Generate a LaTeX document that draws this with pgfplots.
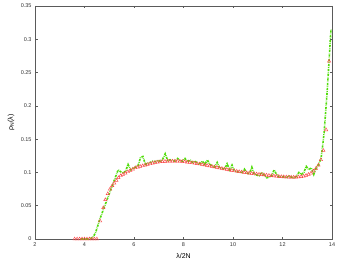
\documentclass[border=0pt]{standalone}
\usepackage{fontspec}
\setmainfont{Liberation Sans}
\usepackage{pgfplots}
\pgfplotsset{compat=1.18}
\definecolor{gr}{RGB}{80,220,10}
\definecolor{rd}{RGB}{250,70,70}
\definecolor{ax}{RGB}{90,90,90}
\begin{document}
\begin{tikzpicture}
\begin{axis}[
  scale only axis, width=297pt, height=233pt,
  xmin=2, xmax=14, ymin=0, ymax=0.35,
  xtick={2,4,...,14}, ytick={0,0.05,...,0.35},
  tick align=inside, tick pos=both,
  major tick length=2.5pt,
  axis line style={ax, line width=0.6pt},
  tick style={ax, line width=0.5pt},
  every tick label/.append style={font=\fontsize{5.5}{6}\selectfont, text=black!80},
  /pgf/number format/assume math mode=true,
  yticklabel style={/pgf/number format/fixed, /pgf/number format/precision=2},
  xlabel={λ/2N}, ylabel={ρ\textsubscript{N}(λ)},
  label style={font=\fontsize{7}{8}\selectfont},
  xlabel style={at={(axis description cs:0.5,-0.073)}, anchor=center},
  ylabel style={at={(axis description cs:-0.081,0.5)}, anchor=center},
  clip=false,
]
\addplot[gr, line width=1.6pt, dash pattern=on 2.2pt off 1pt on 0.6pt off 1pt] coordinates {
(3.85,0) (3.95,0) (4.05,0) (4.15,0) (4.25,0.001) (4.35,0.003) (4.45,0.01) (4.52,0.018)
(4.6,0.028) (4.68,0.036) (4.76,0.044) (4.86,0.054) (4.96,0.064) (5.06,0.074) (5.16,0.084)
(5.26,0.094) (5.36,0.104) (5.46,0.101) (5.56,0.099) (5.66,0.102) (5.76,0.112) (5.86,0.104)
(5.96,0.106) (6.06,0.108) (6.16,0.110) (6.26,0.122) (6.36,0.124) (6.46,0.112) (6.56,0.114)
(6.66,0.115) (6.76,0.117) (6.86,0.116) (6.96,0.118) (7.06,0.117) (7.16,0.120) (7.26,0.128)
(7.36,0.118) (7.46,0.119) (7.56,0.118) (7.66,0.117) (7.76,0.121) (7.86,0.118) (7.96,0.117)
(8.06,0.121) (8.16,0.116) (8.26,0.119) (8.36,0.115) (8.46,0.117) (8.56,0.114) (8.66,0.113)
(8.76,0.117) (8.86,0.112) (8.96,0.119) (9.06,0.112) (9.16,0.110) (9.26,0.108) (9.36,0.115)
(9.46,0.107) (9.56,0.106) (9.66,0.105) (9.76,0.113) (9.86,0.104) (9.96,0.111) (10.06,0.102)
(10.16,0.101) (10.26,0.101) (10.36,0.100) (10.46,0.105) (10.56,0.099) (10.66,0.098) (10.76,0.108)
(10.86,0.097) (10.96,0.096) (11.06,0.095) (11.16,0.100) (11.26,0.096) (11.36,0.092) (11.46,0.093)
(11.56,0.095) (11.66,0.104) (11.76,0.097) (11.86,0.093) (11.96,0.094) (12.06,0.093) (12.16,0.092)
(12.26,0.095) (12.36,0.093) (12.46,0.092) (12.56,0.094) (12.66,0.100) (12.76,0.097) (12.86,0.100)
(12.96,0.109) (13.06,0.104) (13.16,0.107) (13.26,0.097) (13.36,0.107) (13.46,0.112) (13.56,0.122)
(13.62,0.14) (13.68,0.16) (13.74,0.19) (13.8,0.22) (13.85,0.25) (13.9,0.28) (13.93,0.30) (13.96,0.315)
};
\addplot[rd, only marks, mark=triangle, mark size=1.9pt, mark options={line width=0.45pt}] coordinates {
(3.6,0) (3.7,0) (3.8,0) (3.9,0) (4.0,0) (4.1,0) (4.2,0) (4.3,0) (4.4,0) (4.5,0)
(4.63,0.027) (4.76,0.047) (4.84,0.059) (4.94,0.068) (5.03,0.075) (5.12,0.080) (5.2,0.084)
(5.29,0.088) (5.37,0.092) (5.46,0.095) (5.55,0.097) (5.65,0.099) (5.75,0.101) (5.85,0.103)
(5.95,0.105) (6.05,0.107) (6.15,0.108) (6.25,0.109) (6.35,0.110) (6.45,0.111) (6.55,0.112)
(6.65,0.113) (6.75,0.114) (6.85,0.115) (6.95,0.1155) (7.05,0.116) (7.15,0.1163) (7.25,0.1166)
(7.35,0.1168) (7.45,0.117) (7.55,0.117) (7.65,0.117) (7.75,0.117) (7.85,0.1168) (7.95,0.1165)
(8.05,0.116) (8.15,0.1155) (8.25,0.115) (8.35,0.1145) (8.45,0.114) (8.55,0.1133) (8.65,0.1126)
(8.75,0.112) (8.85,0.1112) (8.95,0.1105) (9.05,0.1098) (9.15,0.109) (9.25,0.1082) (9.35,0.1075)
(9.45,0.1067) (9.55,0.106) (9.65,0.1052) (9.75,0.1045) (9.85,0.1038) (9.95,0.1031) (10.05,0.1025)
(10.15,0.1018) (10.25,0.1012) (10.35,0.1006) (10.45,0.1) (10.55,0.0995) (10.65,0.099) (10.75,0.0985)
(10.85,0.098) (10.95,0.0976) (11.05,0.0972) (11.15,0.0968) (11.25,0.0964) (11.35,0.096) (11.45,0.0956)
(11.55,0.0952) (11.65,0.0948) (11.75,0.0944) (11.85,0.094) (11.95,0.0937) (12.05,0.0934) (12.15,0.0931)
(12.25,0.0929) (12.35,0.0928) (12.45,0.0928) (12.55,0.0929) (12.65,0.0932) (12.75,0.0937) (12.85,0.0944)
(12.95,0.0955) (13.05,0.097) (13.15,0.099) (13.25,0.102) (13.35,0.106) (13.45,0.111) (13.55,0.119)
(13.65,0.133) (13.76,0.164) (13.88,0.267)
};
\coordinate (bl) at (axis cs:0.586,-0.0345);
\coordinate (tr) at (axis cs:14.2,0.359);
\end{axis}
\pgfresetboundingbox
\path[use as bounding box] (bl) rectangle (tr);
\end{tikzpicture}
\end{document}
